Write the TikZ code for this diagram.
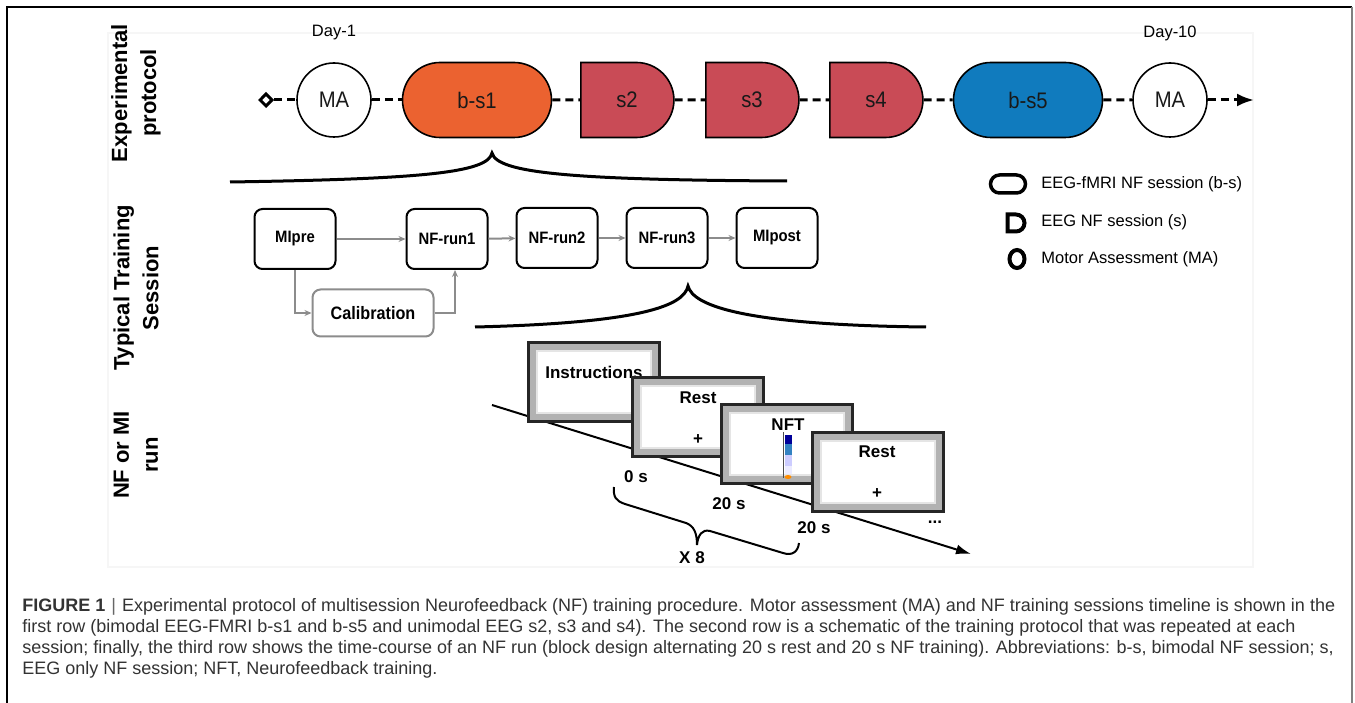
\documentclass[tikz,border=0pt]{standalone}
\usepackage{fontspec}
\setmainfont{Liberation Sans}
\newfontfamily\condsf[FakeStretch=0.9]{Liberation Sans}
\usepackage{tikz}
\usetikzlibrary{arrows.meta,shapes.geometric,shapes.misc}
\definecolor{bsorange}{HTML}{EB6230}
\definecolor{sred}{HTML}{C94B56}
\definecolor{bsblue}{HTML}{107BBE}
\definecolor{flowgray}{HTML}{8C8C8C}
\definecolor{captxt}{HTML}{333333}
\tikzset{every picture/.style={line width=2pt}}
\tikzset{
  sess/.style={draw, line width=1.6pt, rounded rectangle, minimum height=75pt, inner sep=0pt,
    font=\condsf\fontsize{22.5}{25}\selectfont, text=black!90},
  bimod/.style={sess, minimum width=149pt},
  unimod/.style={sess, rounded rectangle left arc=none, minimum width=93pt, fill=sred},
  assess/.style={sess, circle, minimum size=74pt, fill=white},
  daytxt/.style={font=\fontsize{16.5}{19}\selectfont},
  tline/.style={line width=3pt, dash pattern=on 8pt off 5pt},
  rowlbl/.style={rotate=90, align=center, font=\bfseries\fontsize{22}{29}\selectfont},
  runbox/.style={draw, rounded corners=8pt, line width=2pt, minimum width=81pt, minimum height=60pt,
    font=\condsf\bfseries\fontsize{16.5}{19}\selectfont},
  calbox/.style={runbox, draw=flowgray, minimum width=121pt, minimum height=47pt,
    font=\condsf\bfseries\fontsize{18}{21}\selectfont},
  flow/.style={draw=flowgray, line width=2pt, -{Stealth[length=7pt,width=6pt]}},
  lgtxt/.style={anchor=west, font=\fontsize{16.5}{20}\selectfont},
  screen/.style={draw=black!85, fill=gray!60, line width=2.5pt, minimum width=131pt, minimum height=79pt},
  screenin/.style={draw=gray!20, fill=white, line width=1.5pt, minimum width=114pt, minimum height=62pt},
  scrtxt/.style={font=\bfseries\fontsize{17}{20}\selectfont},
  captxt/.style={anchor=west, text=captxt, font=\fontsize{18}{21}\selectfont}
}

\begin{document}
\begin{tikzpicture}[x=1pt,y=-1pt]
\useasboundingbox (0,0) rectangle (1355,703);
\fill[white] (0,0) rectangle (1355,703);
\draw[line width=1.5pt] (7,703) -- (7,7) -- (1352,7);
\draw[gray, line width=2pt] (1352,7) -- (1352,703);
\draw[gray!7, line width=1.5pt] (108,33) rectangle (1253,567);

% row labels
\node[rowlbl] (lblexp) at (136,93) {Experimental\\protocol};
\node[rowlbl] (lbltrain) at (136,288) {Typical Training\\Session};
\node[rowlbl] (lblrun) at (136,455) {NF or MI\\run};

% experimental protocol
\node[draw, diamond, line width=3pt, inner sep=0pt, minimum size=13pt] (start) at (266,100) {};
\node[assess] (ma1) at (334,100) {MA};
\node[bimod, fill=bsorange] (bs1) at (477,100) {b-s1};
\node[unimod] (s2) at (627,100) {s2};
\node[unimod] (s3) at (752,100) {s3};
\node[unimod] (s4) at (876,100) {s4};
\node[bimod, fill=bsblue] (bs5) at (1028,100) {b-s5};
\node[assess] (ma2) at (1170,100) {MA};
\coordinate (tend) at (1254,100);
\node[daytxt] (day1) at (334,33) {Day-1};
\node[daytxt] (day10) at (1170,33) {Day-10};
\path[tline] (start) edge (ma1) (ma1) edge (bs1) (bs1) edge (s2) (s2) edge (s3)
  (s3) edge (s4) (s4) edge (bs5) (bs5) edge (ma2);
\draw[tline, -{Latex[length=17pt,width=13pt]}] (ma2) -- (tend);

\draw[line width=3pt] (230,182) .. controls (420,179) and (488,173) .. (492,153)
  .. controls (497,173) and (570,180) .. (787,181);

% legend
\node[draw, rounded rectangle, line width=3.5pt, minimum width=35pt, minimum height=18pt, inner sep=0pt] (lgbs) at (1008,184) {};
\node[lgtxt] (lgbstxt) at (1037,184) {EEG-fMRI NF session (b-s)};
\node[draw, rounded rectangle, rounded rectangle left arc=none, line width=4pt, minimum width=14pt, minimum height=17pt, inner sep=0pt] (lgs) at (1016,223) {};
\node[lgtxt] (lgstxt) at (1037,222) {EEG NF session (s)};
\node[draw, ellipse, line width=4pt, minimum width=15pt, minimum height=18pt, inner sep=0pt] (lgma) at (1017,259) {};
\node[lgtxt] (lgmatxt) at (1037,259) {Motor Assessment (MA)};

% typical training session
\node[runbox] (mipre) at (295,239) {MIpre};
\node[runbox] (run1) at (447,239) {NF-run1};
\node[runbox] (run2) at (557,238) {NF-run2};
\node[runbox] (run3) at (667,238) {NF-run3};
\node[runbox] (mipost) at (777,238) {MIpost};
\node[calbox] (calib) at (373,313) {Calibration};
\path[flow] (mipre) edge (run1) (run1) edge (run2) (run2) edge (run3) (run3) edge (mipost);
\draw[flow] (mipre) |- (calib);
\draw[flow] (calib.east) -| ([xshift=8pt]run1.south);

\draw[line width=3pt] (475,327) .. controls (640,323) and (684,306) .. (688,286)
  .. controls (693,306) and (745,325) .. (926,327);

% NF or MI run
\coordinate (t0) at (492,405);
\coordinate (t1) at (971,554);
\draw[line width=2pt, -{Latex[length=15pt,width=10pt]}] (t0) -- (t1);

\node[screen] (scr1) at (594,382) {};
\node[screenin] (scr1in) at (scr1) {};
\node[scrtxt] (instr) at (594,372) {Instructions};
\node[screen] (scr2) at (698,417) {};
\node[screenin] (scr2in) at (scr2) {};
\node[scrtxt] (rest1) at (698,398) {Rest};
\node[scrtxt] (cross1) at (698,440) {+};
\node[screen] (scr3) at (787,444) {};
\node[screenin] (scr3in) at (scr3) {};
\node[scrtxt] (nft) at (788,425) {NFT};
\draw[black!70, line width=0.8pt] (783.5,432) -- (783.5,478);
\fill[blue!60!black] (785,435) rectangle (792,444);
\fill[blue!45!cyan!70!black!80] (785,444) rectangle (792,455);
\fill[blue!20] (785,455) rectangle (792,466);
\fill[blue!8] (785,466) rectangle (792,474);
\fill[orange!90!yellow] (788,477) ellipse (3.5pt and 2pt);
\node[screen] (scr4) at (878,472) {};
\node[screenin] (scr4in) at (scr4) {};
\node[scrtxt] (rest2) at (877,452) {Rest};
\node[scrtxt] (cross2) at (877,494) {+};

\node[scrtxt] (t0s) at (636,477) {0 s};
\node[scrtxt] (t20a) at (729,504) {20 s};
\node[scrtxt] (t20b) at (814,528) {20 s};
\node[scrtxt] (dots) at (935,522) {...};

\draw[line width=2pt] (614,487) .. controls (613,497) and (616,501) .. (625,504) -- (686,523)
  .. controls (694,526) and (697,533) .. (697,545)
  .. controls (698,535) and (702,529) .. (710,531) -- (783,553)
  .. controls (792,556) and (798,552) .. (799,543);
\node[scrtxt] (x8) at (692,558) {X 8};

% caption
\node[captxt] (cap1) at (18,607) {\textbf{FIGURE 1}\,\,{\color{black!60}|}\,\,Experimental protocol of multisession Neurofeedback (NF) training procedure. Motor assessment (MA) and NF training sessions timeline is shown in the};
\node[captxt] (cap2) at (18,628) {first row (bimodal EEG-FMRI b-s1 and b-s5 and unimodal EEG s2, s3 and s4). The second row is a schematic of the training protocol that was repeated at each};
\node[captxt] (cap3) at (18,649) {session; finally, the third row shows the time-course of an NF run (block design alternating 20 s rest and 20 s NF training). Abbreviations: b-s, bimodal NF session; s,};
\node[captxt] (cap4) at (18,670) {EEG only NF session; NFT, Neurofeedback training.};
\end{tikzpicture}
\end{document}
